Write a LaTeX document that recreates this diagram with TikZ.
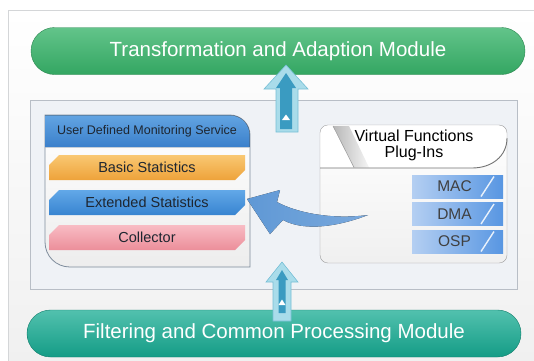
\documentclass[tikz,border=0pt]{standalone}
\usepackage{fontspec}
\setmainfont{Liberation Sans}
\usetikzlibrary{shapes.misc}

\definecolor{framegray}{HTML}{D4D6D8}
\definecolor{panelfill}{HTML}{EFF2F6}
\definecolor{panelline}{HTML}{B8BEC6}
\definecolor{greentop}{HTML}{62C48A}
\definecolor{greenbot}{HTML}{34A662}
\definecolor{tealtop}{HTML}{52C1AE}
\definecolor{tealbot}{HTML}{149C86}
\definecolor{arrowlight}{HTML}{A9DCEA}
\definecolor{arrowedge}{HTML}{76BFD6}
\definecolor{arrowdark}{HTML}{3A9BC1}
\definecolor{hdrtop}{HTML}{62A4E2}
\definecolor{hdrbot}{HTML}{3B80CB}
\definecolor{boxline}{HTML}{7E8C9C}
\definecolor{orangetop}{HTML}{F9C872}
\definecolor{orangebot}{HTML}{EEA23A}
\definecolor{bluetop}{HTML}{62A8E8}
\definecolor{bluebot}{HTML}{3884D0}
\definecolor{pinktop}{HTML}{F8BCC4}
\definecolor{pinkbot}{HTML}{EC8E9A}
\definecolor{plugleft}{HTML}{B4CFF2}
\definecolor{plugright}{HTML}{5896E2}
\definecolor{curvehead}{HTML}{64A0E0}
\definecolor{curvetail}{HTML}{80B2E9}
\definecolor{darktext}{HTML}{1E2630}

\tikzset{
  pill/.style={draw=#1, rounded corners=23.5pt, minimum width=494pt,
    minimum height=47pt, inner sep=0pt, text=white,
    font=\fontsize{20.5}{24}\selectfont},
  statbar/.style={chamfered rectangle,
    chamfered rectangle corners={north west,south east},
    chamfered rectangle xsep=5pt, chamfered rectangle ysep=5pt,
    minimum width=196pt, minimum height=25pt, inner sep=0pt,
    text=darktext, font=\fontsize{14.5}{16}\selectfont},
  plugbar/.style={rectangle, minimum width=91pt, minimum height=23pt,
    inner sep=0pt, left color=plugleft, right color=plugright,
    text=black!75, font=\fontsize{15.5}{18}\selectfont},
  outerarrow/.style={fill=arrowlight, draw=arrowedge, line width=0.6pt},
  innerarrow/.style={fill=arrowdark},
}

\begin{document}
\begin{tikzpicture}[x=1pt,y=-1pt]
\useasboundingbox (0,0) rectangle (534,360);
\clip (0,0) rectangle (534,360);
\fill[white] (0,0) rectangle (534,360);

% outer frame
\draw[framegray, top color=white, bottom color=black!6] (8,10) rectangle (545,370);

% middle panel
\draw[panelline, fill=panelfill] (30,100) rectangle (517,289);

% module bars
\node[pill=greenbot!80!black, top color=greentop, bottom color=greenbot]
  (tam) at (278,51) {Transformation and Adaption Module};
\node[pill=tealbot!80!black, top color=tealtop, bottom color=tealbot]
  (fcp) at (274,333.5) {Filtering and Common Processing Module};

% upward block arrow into the top module
\draw[outerarrow] (286,65) -- (308,89) -- (298,89) -- (298,132) -- (276,132)
  -- (276,89) -- (264,89) -- cycle;
\fill[innerarrow] (286,73) -- (296,88) -- (292,88) -- (292,129) -- (280,129)
  -- (280,88) -- (276,88) -- cycle;
\fill[white] (282,120) -- (290,120) -- (286,114.5) -- cycle;

% upward block arrow from the bottom module
\draw[outerarrow] (282,262) -- (298,282) -- (291,282) -- (291,321) -- (273,321)
  -- (273,282) -- (266,282) -- cycle;
\fill[innerarrow] (282,270) -- (288,280) -- (285.5,280) -- (285.5,313) -- (278.5,313)
  -- (278.5,280) -- (276,280) -- cycle;
\fill[white] (278.5,305) -- (285.5,305) -- (282,299.5) -- cycle;

% user defined monitoring service box
\draw[boxline, line width=0.8pt, top color=white, bottom color=black!7]
  (45,115) -- (230,115) .. controls (241,115) and (250,124) .. (250,135)
  -- (250,267) -- (70,267) .. controls (56,267) and (45,256) .. (45,242) -- cycle;
\fill[top color=hdrtop, bottom color=hdrbot]
  (45.4,115.4) -- (230,115.4) .. controls (240.7,115.4) and (249.6,124) .. (249.6,135)
  -- (249.6,147) -- (45.4,147) -- cycle;
\node[text=darktext, font=\fontsize{12.5}{15}\selectfont] (uds) at (147,131)
  {User Defined Monitoring Service};

\node[statbar, top color=orangetop, bottom color=orangebot] (basic) at (147,167.5)
  {Basic Statistics};
\node[statbar, top color=bluetop, bottom color=bluebot] (ext) at (147,202.5)
  {Extended Statistics};
\node[statbar, top color=pinktop, bottom color=pinkbot] (coll) at (147,237.5)
  {Collector};

% virtual functions plug-ins box
\draw[black!40, rounded corners=8pt, top color=white, bottom color=black!6]
  (320,125) rectangle (507,263);
\fill[white] (320.5,168) -- (320.5,133) .. controls (320.5,129) and (324,125.5) .. (328,125.5)
  -- (496,125.5) .. controls (503,125.5) and (506.5,130) .. (506.5,138)
  .. controls (506.5,156) and (492,168) .. (472,168) -- cycle;
\shade[left color=black!28, right color=black!4]
  (333,126) -- (349,126) -- (369,167.5) -- (354,167.5) -- cycle;
\draw[black!40, line width=0.5pt] (333,126) -- (354,167.5);
\draw[black!55, line width=0.9pt] (320,168) -- (472,168)
  .. controls (492,168) and (507,156) .. (507,138);
\node[align=center, text=black, font=\fontsize{16}{16}\selectfont] (vfp)
  at (414,145.5) {Virtual Functions\\Plug-Ins};

\node[plugbar] (mac) at (457.5,186.5) {MAC\hspace*{6pt}};
\node[plugbar] (dma) at (457.5,214) {DMA\hspace*{6pt}};
\node[plugbar] (osp) at (457.5,241.5) {OSP\hspace*{6pt}};
\foreach \c in {186.5,214,241.5}
  \draw[white!70!plugleft, line width=1.4pt] (481,\c+10) -- (494,\c-10);

% curved arrow from the plug-ins to the extended statistics
\fill[left color=curvehead, right color=curvetail, opacity=0.95]
  (247,199) -- (280,190) -- (277,202) .. controls (295,212) and (330,220) .. (368,215)
  .. controls (340,226) and (305,232) .. (283,220) -- (270,234) -- cycle;
\end{tikzpicture}
\end{document}
